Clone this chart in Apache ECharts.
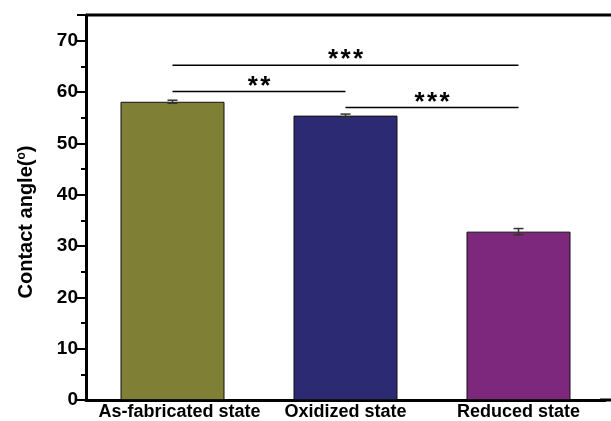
<!DOCTYPE html>
<html><head><meta charset="utf-8">
<script src="https://cdn.jsdelivr.net/npm/echarts@6/dist/echarts.min.js"></script>
<style>html,body{margin:0;padding:0;background:#fff}#c{width:611px;height:421px}</style>
</head><body><div id="c"></div>
<script>
var categories = ['As-fabricated state', 'Oxidized state', 'Reduced state'];
var means = [58.1, 55.4, 32.8];
var errors = [0.3, 0.3, 0.6];
var barColors = ['#7f8036', '#2b2a72', '#7d287c'];
// [from category index, to category index, height, label]
var brackets = [[0, 2, 65.2, '***'], [0, 1, 60.1, '**'], [1, 2, 57.0, '***']];
var yTicks = [0, 10, 20, 30, 40, 50, 60, 70];

var FONT = 'Arial, "Liberation Sans", sans-serif';
var chart = echarts.init(document.getElementById('c'));

var errData = means.map(function (m, i) { return [i, m, errors[i]]; });

chart.setOption({
  animation: false,
  grid: { left: 86, right: 6, top: 15, bottom: 21 },
  xAxis: {
    type: 'category', data: categories,
    axisLine: { lineStyle: { color: '#000', width: 3 } },
    axisTick: { show: false },
    axisLabel: { color: '#000', fontFamily: FONT, fontWeight: 'bold', fontSize: 18, margin: 3,
      interval: 0, hideOverlap: false,
      formatter: function (v, i) { return i === 0 ? '{f|' + v + '}' : v; },
      rich: { f: { fontFamily: FONT, fontWeight: 'bold', fontSize: 18, color: '#000', padding: [0, 0, 0, 14] } }
    }
  },
  yAxis: {
    type: 'value', min: 0, max: 75, interval: 10,
    splitLine: { show: false },
    axisLine: { show: true, lineStyle: { color: '#000', width: 3 } },
    axisTick: { show: true, length: 9, lineStyle: { color: '#000', width: 2 } },
    minorTick: { show: true, splitNumber: 2, length: 5, lineStyle: { color: '#000', width: 2 } },
    axisLabel: {
      color: '#000', fontFamily: FONT, fontWeight: 'bold', fontSize: 19, margin: 8,
      formatter: function (v) { return yTicks.indexOf(v) >= 0 ? String(v) : ''; }
    }
  },
  series: [
    {
      type: 'bar', barWidth: 104,
      data: means.map(function (m, i) {
        return { value: m, itemStyle: { color: barColors[i], borderColor: '#111', borderWidth: 1 } };
      })
    },
    {
      type: 'custom', data: errData, z: 5,
      renderItem: function (params, api) {
        var x = api.value(0), m = api.value(1), e = api.value(2);
        var hi = api.coord([x, m + e]), lo = api.coord([x, m - e]);
        var w = 5;
        var st = { stroke: '#333', lineWidth: 1.5 };
        return { type: 'group', children: [
          { type: 'line', shape: { x1: hi[0], y1: hi[1], x2: lo[0], y2: lo[1] }, style: st },
          { type: 'line', shape: { x1: hi[0] - w, y1: hi[1], x2: hi[0] + w, y2: hi[1] }, style: st },
          { type: 'line', shape: { x1: lo[0] - w, y1: lo[1], x2: lo[0] + w, y2: lo[1] }, style: st }
        ] };
      }
    },
    {
      type: 'custom', data: brackets, z: 5,
      renderItem: function (params, api) {
        var a = api.value(0), b = api.value(1), h = api.value(2);
        var label = brackets[params.dataIndex][3];
        var p1 = api.coord([a, h]), p2 = api.coord([b, h]);
        var cx = (p1[0] + p2[0]) / 2;
        var n = label.length, gap = 12.5;
        var children = [
          { type: 'line', shape: { x1: p1[0], y1: p1[1], x2: p2[0], y2: p2[1] }, style: { stroke: '#000', lineWidth: 1.5 } }
        ];
        for (var k = 0; k < n; k++) {
          children.push({ type: 'text', style: { text: label[k], x: cx + (k - (n - 1) / 2) * gap, y: p1[1] - 5,
            align: 'center', verticalAlign: 'middle', font: 'bold 26px ' + FONT, fill: '#000' } });
        }
        return { type: 'group', children: children };
      }
    }
  ],
  graphic: [
    { type: 'line', shape: { x1: 86, y1: 15, x2: 611, y2: 15 }, style: { stroke: '#000', lineWidth: 3 } },
    { type: 'line', shape: { x1: 600, y1: 400, x2: 611, y2: 400 }, style: { stroke: '#000', lineWidth: 3 } },
    { type: 'text', x: 26, y: 222, rotation: Math.PI / 2,
      style: { text: 'Contact angle({s|o})', align: 'center', verticalAlign: 'middle',
        font: 'bold 20px ' + FONT, fill: '#000',
        rich: { s: { fontSize: 12, fontWeight: 'bold', fontFamily: FONT, verticalAlign: 'top', padding: [0, 0, 9, 0] } } } }
  ]
});
</script>
</body></html>
